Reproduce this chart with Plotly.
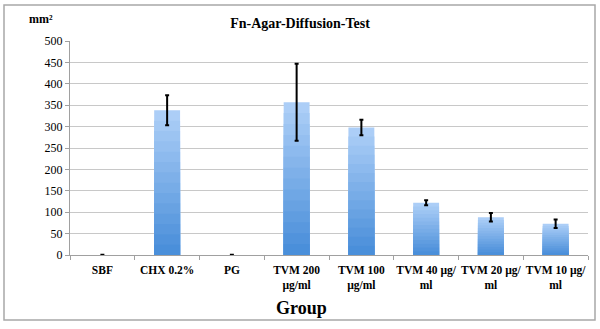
import plotly.graph_objects as go

categories = ["SBF", "CHX 0.2%", "PG", "TVM 200<br>µg/ml", "TVM 100<br>µg/ml",
              "TVM 40 µg/<br>ml", "TVM 20 µg/<br>ml", "TVM 10 µg/<br>ml"]
values = [0, 338, 0, 357, 298, 122, 88, 73]
errors = [0.5, 35, 0.5, 90, 18, 6, 10, 10]
y_ticks = [0, 50, 100, 150, 200, 250, 300, 350, 400, 450, 500]

FONT = "Liberation Serif"
fig = go.Figure()

# gradient simulation: overlaid bars, light at top to darker at bottom
N = 14
light = (172, 206, 247)
dark = (74, 143, 218)
for k in range(N):
    frac = 1 - k / N
    t = k / (N - 1)
    c = tuple(int(light[i] + (dark[i] - light[i]) * t) for i in range(3))
    fig.add_trace(go.Bar(
        x=categories, y=[v * frac for v in values],
        marker=dict(color="rgb(%d,%d,%d)" % c, line=dict(width=0)),
        width=0.4, showlegend=False, hoverinfo="skip"))

fig.add_trace(go.Bar(
    x=categories, y=values, width=0.4, showlegend=False,
    marker=dict(color="rgba(0,0,0,0)", line=dict(width=0)),
    error_y=dict(type="data", array=errors, visible=True, color="black",
                 thickness=2, width=2)))

fig.update_layout(
    barmode="overlay",
    width=600, height=329,
    margin=dict(l=70, r=12, t=41, b=74),
    paper_bgcolor="white", plot_bgcolor="white",
    font=dict(family=FONT, color="black"),
    title=dict(text="<b>Fn-Agar-Diffusion-Test</b>", x=0.5, xanchor="center",
               y=1 - 23 / 329, yanchor="middle", font=dict(size=14, family=FONT)),
    xaxis=dict(tickfont=dict(size=11.5, family=FONT), showline=True, linecolor="#a0a0a0",
               ticks="outside", tickson="boundaries", ticklen=4, tickcolor="#a0a0a0",
               showgrid=False, tickprefix="<b>", ticksuffix="</b>", ticklabelstandoff=4,
               tickangle=0, automargin=False),
    yaxis=dict(range=[0, 500], tickvals=y_ticks, showgrid=True, gridcolor="#c8c8c8",
               gridwidth=1, showline=True, linecolor="#a0a0a0", ticks="outside",
               ticklen=4, tickcolor="#a0a0a0", tickfont=dict(size=12, family=FONT),
               tickprefix="<b>", ticksuffix="</b>", zeroline=False, automargin=False),
    shapes=[dict(type="rect", xref="paper", yref="paper", x0=-66/518, x1=1+7/518,
                 y0=-65/214, y1=1+36/214, line=dict(color="#a8a8a8", width=1.5))],
    annotations=[
        dict(text="<b>mm²</b>", xref="paper", yref="paper", x=-15/518, y=1+22/214,
             xanchor="right", yanchor="middle", showarrow=False,
             font=dict(size=12, family=FONT)),
        dict(text="<b>Group</b>", xref="paper", yref="paper", x=(301-70)/518,
             y=-(308-255)/214, xanchor="center", yanchor="middle", showarrow=False,
             font=dict(size=18, family=FONT)),
    ],
)

fig.write_html("out.html")
